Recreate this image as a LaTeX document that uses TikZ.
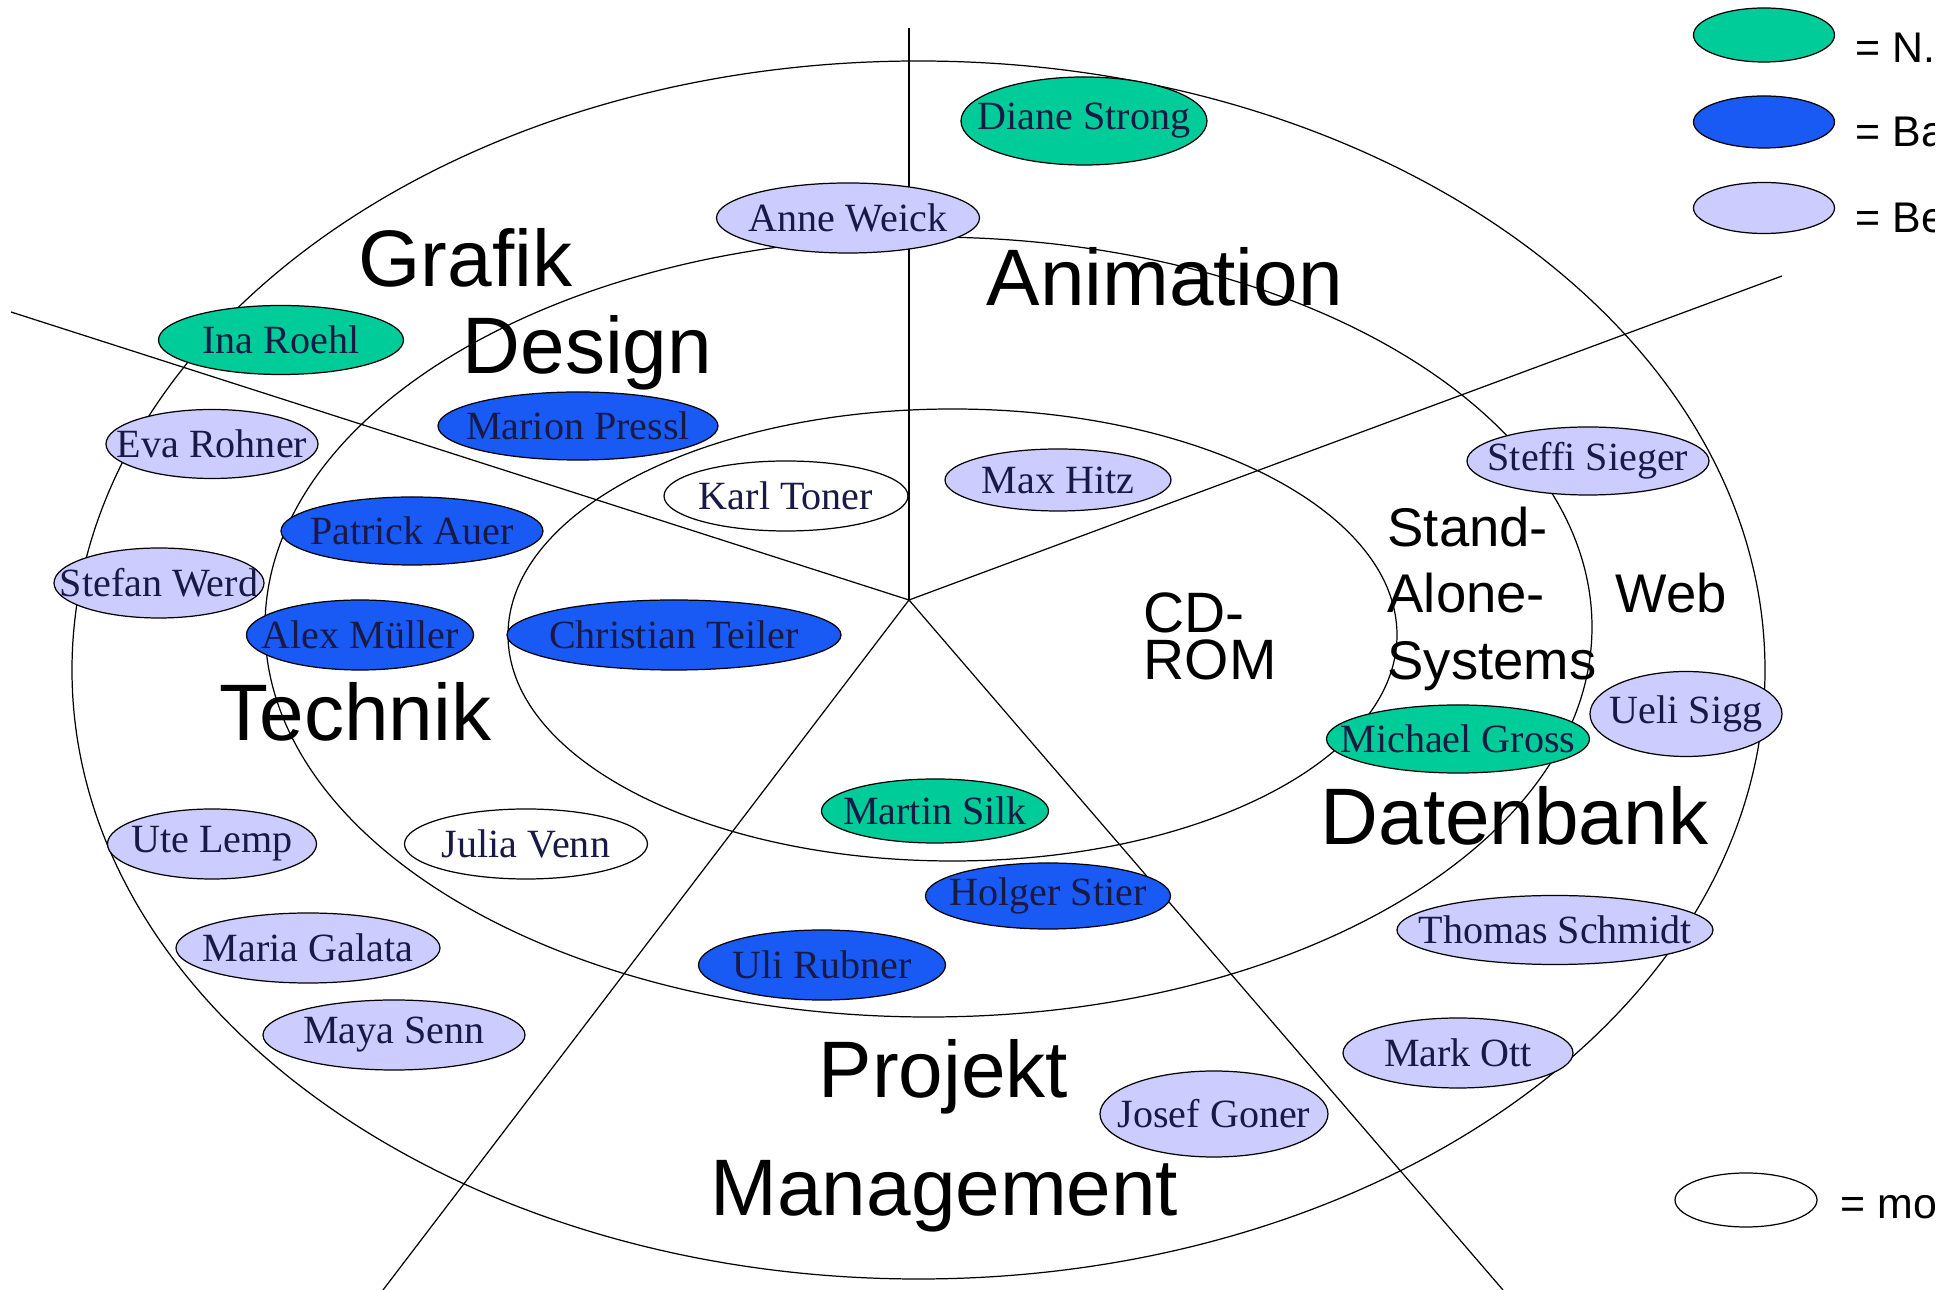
\documentclass[tikz,border=0pt]{standalone}
\usepackage{fontspec}
\setmainfont{Liberation Serif}
\newfontfamily\arialfont{Liberation Sans}
\usetikzlibrary{shapes.geometric}
\definecolor{ngruen}{RGB}{0,204,153}
\definecolor{nblau}{RGB}{25,90,245}
\definecolor{nhell}{RGB}{204,204,255}
\definecolor{nschrift}{RGB}{25,25,70}
\begin{document}
\begin{tikzpicture}[x=0.1mm, y=-0.1mm, line width=0.35pt,
		person/.style={ellipse, draw, inner sep=-30mm, text=nschrift, font=\fontsize{11.4}{13}\selectfont},
		gruen/.style={person, fill=ngruen},
		blau/.style={person, fill=nblau},
		hell/.style={person, fill=nhell},
		leer/.style={person, fill=white},
		sz/.style 2 args={minimum width=#1mm, minimum height=#2mm},
		gross/.style={font=\arialfont\fontsize{22.8}{26}\selectfont, inner sep=0pt, anchor=base west},
		mittel/.style={font=\arialfont\fontsize{15.5}{19}\selectfont, inner sep=0pt, align=left},
		cdstil/.style={font=\arialfont\fontsize{16.2}{19}\selectfont, inner sep=0pt, anchor=base west},
		legtext/.style={font=\arialfont\fontsize{12.2}{14}\selectfont, inner sep=0pt, anchor=base west}]
		\useasboundingbox (0,0) rectangle (1957,1290);
		\draw (918.5,670) ellipse [x radius=846.5, y radius=609];
		\draw (928.5,627) ellipse [x radius=663.5, y radius=390];
		\draw (952.5,635) ellipse [x radius=444.5, y radius=226];
		\coordinate (mitte) at (909,600);
		\coordinate (oben) at (909,28);
		\coordinate (linksoben) at (11,312);
		\coordinate (rechtsoben) at (1782,276);
		\coordinate (linksunten) at (383,1290);
		\coordinate (rechtsunten) at (1503,1290);
		\draw (mitte) -- (oben);
		\draw (mitte) -- (linksoben);
		\draw (mitte) -- (rechtsoben);
		\draw (mitte) -- (linksunten);
		\draw (mitte) -- (rechtsunten);
		\node[gross] (grafik) at (358,287) {Grafik};
		\node[gross] (design) at (462,374) {Design};
		\node[gross] (animation) at (986,306) {Animation};
		\node[gross] (technik) at (219,741) {Technik};
		\node[gross] (datenbank) at (1320,845) {Datenbank};
		\node[gross] (projekt) at (818,1098) {Projekt};
		\node[gross] (management) at (710,1216) {Management};
		\node[cdstil] (cd) at (1143,633) {CD-};
		\node[cdstil] (rom) at (1143,680) {ROM};
		\node[mittel, anchor=north west] (standalone) at (1387,506) {Stand-\\Alone-\\Systems};
		\node[mittel, anchor=base west] (web) at (1615,613) {Web};
		\node[gruen, sz={24.6}{8.8}] (diane) at (1084,121) {Diane Strong};
		\node[hell, sz={26.3}{7.0}] (anne) at (848,218) {Anne Weick};
		\node[gruen, sz={24.5}{6.9}] (ina) at (281,340) {Ina Roehl};
		\node[hell, sz={21.2}{6.9}] (eva) at (212,444) {Eva Rohner};
		\node[hell, sz={21.0}{7.0}] (stefan) at (159,583) {Stefan Werd};
		\node[blau, sz={26.2}{6.8}] (patrick) at (412,531) {Patrick Auer};
		\node[blau, sz={22.7}{7.0}] (alex) at (360,635) {Alex Müller};
		\node[blau, sz={28.0}{6.8}] (marion) at (578,426) {Marion Pressl};
		\node[leer, sz={24.4}{7.0}] (karl) at (786,496) {Karl Toner};
		\node[blau, sz={33.4}{7.0}] (christian) at (674,635) {Christian Teiler};
		\node[hell, sz={22.6}{6.2}] (max) at (1058,480) {Max Hitz};
		\node[hell, sz={24.2}{6.8}] (steffi) at (1588,461) {Steffi Sieger};
		\node[hell, sz={19.2}{8.5}] (ueli) at (1686,714) {Ueli Sigg};
		\node[gruen, sz={26.3}{6.8}] (michael) at (1458,739) {Michael Gross};
		\node[gruen, sz={22.7}{6.4}] (martin) at (935,811) {Martin Silk};
		\node[hell, sz={20.9}{7.0}] (ute) at (212,844) {Ute Lemp};
		\node[leer, sz={24.3}{7.0}] (julia) at (526,844) {Julia Venn};
		\node[hell, sz={26.4}{7.0}] (maria) at (308,948) {Maria Galata};
		\node[hell, sz={26.2}{7.0}] (maya) at (394,1035) {Maya Senn};
		\node[blau, sz={24.5}{6.6}] (holger) at (1048,896) {Holger Stier};
		\node[blau, sz={24.7}{7.0}] (uli) at (822,965) {Uli Rubner};
		\node[hell, sz={31.6}{6.9}] (thomas) at (1555,930) {Thomas Schmidt};
		\node[hell, sz={23.0}{7.0}] (mark) at (1458,1053) {Mark Ott};
		\node[hell, sz={22.8}{8.6}] (josef) at (1214,1114) {Josef Goner};
		\node[gruen, sz={14.1}{5.4}] (leggruen) at (1764,35) {};
		\node[blau, sz={14.1}{5.2}] (legblau) at (1764,122) {};
		\node[hell, sz={14.1}{5.1}] (leghell) at (1764,208) {};
		\node[leer, sz={14.2}{5.4}] (legleer) at (1746,1200) {};
		\begin{scope}
			\clip (1830,0) rectangle (1934,1290);
			\node[legtext] (txtgruen) at (1855,63) {= N.};
			\node[legtext] (txtblau) at (1855,147) {= Ba};
			\node[legtext] (txthell) at (1855,233) {= Be};
			\node[legtext] (txtleer) at (1840,1219) {= mo};
		\end{scope}
	\end{tikzpicture}
\end{document}
